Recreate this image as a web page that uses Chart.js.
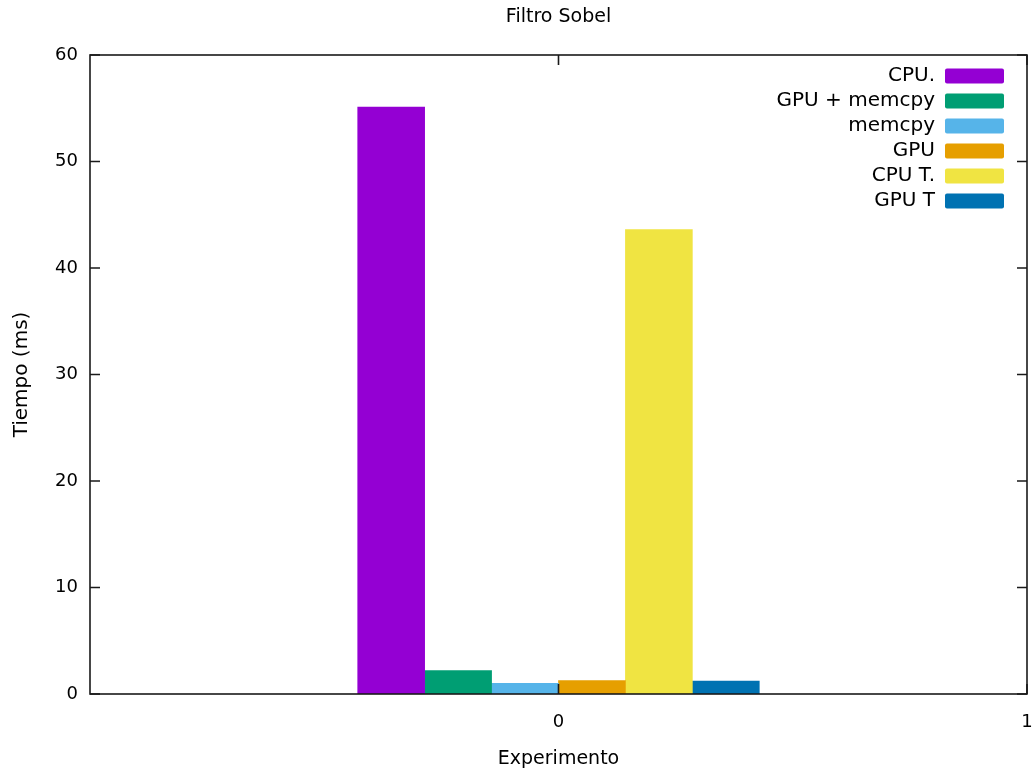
<!DOCTYPE html>
<html>
<head>
<meta charset="utf-8">
<script src="https://cdn.jsdelivr.net/npm/chart.js@4"></script>
<style>
  html, body { margin: 0; padding: 0; background: #fff; }
  #wrap { width: 1035px; height: 770px; }
</style>
</head>
<body>
<div id="wrap"><canvas id="sobelChart"></canvas></div>
<script>
// Datos (un solo experimento, 6 series)
const seriesNames = ['CPU.', 'GPU + memcpy', 'memcpy', 'GPU', 'CPU T.', 'GPU T'];
const seriesValues = [55.1, 2.2, 1.0, 1.25, 43.6, 1.22];
const seriesColors = ['#9400d3', '#009e73', '#56b4e9', '#e69f00', '#f0e442', '#0072b2'];
const experiment = 0;
const xTicks = [0, 1];
const yTicks = [0, 10, 20, 30, 40, 50, 60];

const FONT = 'DejaVu Sans';
const clusterGap = 1; // gnuplot "histogram clustered gap 1"

// x de cada barra dentro del grupo, como hace gnuplot
function barX(i) {
  const n = seriesNames.length;
  return experiment + (i - (n - 1) / 2) / (n + clusterGap);
}

// Borde completo + ticks hacia dentro
const frame = {
  id: 'frame',
  afterDatasetsDraw(chart) {
    const { ctx, chartArea: a, scales } = chart;
    const tl = 10;
    ctx.save();
    ctx.strokeStyle = '#1a1a1a';
    ctx.lineWidth = 1.6;
    ctx.strokeRect(a.left, a.top, a.right - a.left, a.bottom - a.top);
    ctx.beginPath();
    yTicks.forEach(v => {
      const y = scales.y.getPixelForValue(v);
      ctx.moveTo(a.left, y); ctx.lineTo(a.left + tl, y);
      ctx.moveTo(a.right, y); ctx.lineTo(a.right - tl, y);
    });
    xTicks.forEach(v => {
      const x = scales.x.getPixelForValue(v);
      ctx.moveTo(x, a.bottom); ctx.lineTo(x, a.bottom - tl);
      ctx.moveTo(x, a.top); ctx.lineTo(x, a.top + tl);
    });
    ctx.stroke();
    ctx.restore();
  }
};

// Leyenda estilo gnuplot (texto a la derecha, muestra de color al lado)
const keyBox = {
  id: 'keyBox',
  afterDraw(chart) {
    const { ctx, chartArea: a } = chart;
    const sw = 59, sh = 15;
    const sx = a.right - 82;
    const y0 = a.top + 21;
    ctx.save();
    ctx.font = '20px "' + FONT + '"';
    ctx.textAlign = 'right';
    ctx.textBaseline = 'middle';
    chart.data.datasets.forEach((ds, i) => {
      const y = y0 + i * 25;
      ctx.fillStyle = '#000';
      ctx.fillText(ds.label, sx - 10, y);
      ctx.fillStyle = ds.backgroundColor;
      ctx.beginPath();
      ctx.roundRect(sx, y - sh / 2, sw, sh, 2);
      ctx.fill();
    });
    ctx.restore();
  }
};

new Chart(document.getElementById('sobelChart'), {
  type: 'bar',
  data: {
    datasets: seriesNames.map((name, i) => ({
      label: name,
      data: [{ x: barX(i), y: seriesValues[i] }],
      backgroundColor: seriesColors[i],
      borderWidth: 0,
      grouped: false,
      categoryPercentage: 1,
      barPercentage: 1
    }))
  },
  options: {
    responsive: true,
    maintainAspectRatio: false,
    animation: false,
    layout: { padding: { left: 0, right: 8, top: 0, bottom: 0 } },
    plugins: {
      legend: { display: false },
      tooltip: { enabled: false },
      title: {
        display: true,
        fullSize: false,
        text: 'Filtro Sobel',
        color: '#000',
        font: { family: FONT, size: 19, weight: 'normal' },
        padding: { top: 6, bottom: 26.2 }
      }
    },
    scales: {
      x: {
        type: 'linear',
        min: -1,
        max: 1,
        offset: false,
        afterBuildTicks: s => { s.ticks = xTicks.map(v => ({ value: v })); },
        afterFit: s => { s.height = 76; s.paddingLeft = 0; s.paddingRight = 0; },
        grid: { display: false, drawTicks: false, offset: false },
        border: { display: false },
        ticks: { color: '#000', font: { family: FONT, size: 18 }, padding: 18, autoSkip: false, maxRotation: 0 },
        title: { display: true, text: 'Experimento', color: '#000', font: { family: FONT, size: 19 }, padding: { top: 0.6, bottom: 0 } }
      },
      y: {
        min: 0,
        max: 60,
        afterBuildTicks: s => { s.ticks = yTicks.map(v => ({ value: v })); },
        afterFit: s => { s.width = 90; s.paddingTop = 0; s.paddingBottom = 0; },
        grid: { display: false, drawTicks: false },
        border: { display: false },
        ticks: { color: '#000', font: { family: FONT, size: 18 }, padding: 12 },
        title: { display: true, text: 'Tiempo (ms)', color: '#000', font: { family: FONT, size: 20 }, padding: { top: 10, bottom: 0 } }
      }
    }
  },
  plugins: [frame, keyBox]
});
</script>
</body>
</html>
